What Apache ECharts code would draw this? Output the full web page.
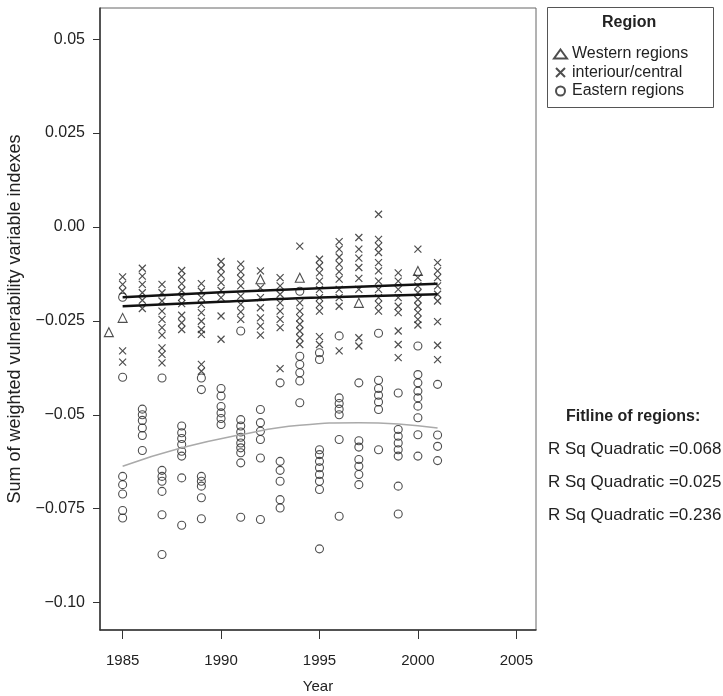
<!DOCTYPE html>
<html>
<head>
<meta charset="UTF-8">
<title>Region vulnerability</title>
<script src="https://cdn.jsdelivr.net/npm/echarts@6/dist/echarts.min.js"></script>
<style>
  html, body { margin: 0; padding: 0; background: #fff; }
  #chart { width: 723px; height: 696px; }
</style>
</head>
<body>
<div id="chart"></div>
<script>
// tick labels
var yearTicks = [1985, 1990, 1995, 2000, 2005];
var valueTicks = [-0.10, -0.075, -0.05, -0.025, 0, 0.025, 0.05];
var valueTickLabels = ['\u22120.10', '\u22120.075', '\u22120.05', '\u22120.025', '0.00', '0.025', '0.05'];

// Western regions (triangles)
var western = [
  [1984.3, -0.028], [1985, -0.0242], [1992, -0.0139], [1994, -0.0135],
  [1997, -0.0202], [2000, -0.0117]
];

// interiour/central (x marks), per year
var interior = {
  1985: [-0.0133, -0.0153, -0.0171, -0.033, -0.036],
  1986: [-0.011, -0.0131, -0.0153, -0.0175, -0.0195, -0.0217],
  1987: [-0.0153, -0.0175, -0.0197, -0.0224, -0.0246, -0.0268, -0.0288, -0.0322, -0.0339, -0.0362],
  1988: [-0.0116, -0.0133, -0.0151, -0.0169, -0.0187, -0.0204, -0.0235, -0.0255, -0.0273],
  1989: [-0.0151, -0.0171, -0.0188, -0.0206, -0.0228, -0.0251, -0.0273, -0.0286, -0.0366, -0.0384],
  1990: [-0.0092, -0.011, -0.0128, -0.0148, -0.0169, -0.0188, -0.0237, -0.0299],
  1991: [-0.0099, -0.0119, -0.0137, -0.0157, -0.0184, -0.0206, -0.0226, -0.0246],
  1992: [-0.0117, -0.0162, -0.0188, -0.0215, -0.0242, -0.0264, -0.0288],
  1993: [-0.0135, -0.0157, -0.0179, -0.0202, -0.0224, -0.0246, -0.0268, -0.0377],
  1994: [-0.0051, -0.0202, -0.0224, -0.0242, -0.0259, -0.0277, -0.0295, -0.0313],
  1995: [-0.0086, -0.0104, -0.0122, -0.0144, -0.0166, -0.0188, -0.0206, -0.0224, -0.0292, -0.0313],
  1996: [-0.0039, -0.0059, -0.008, -0.0099, -0.0119, -0.0139, -0.0166, -0.0188, -0.0211, -0.033],
  1997: [-0.0028, -0.0059, -0.0083, -0.0108, -0.0137, -0.0166, -0.0295, -0.0317],
  1998: [0.0034, -0.0033, -0.0051, -0.0068, -0.0095, -0.0117, -0.0144, -0.0166, -0.0188, -0.0206, -0.0224],
  1999: [-0.0122, -0.0144, -0.0166, -0.0188, -0.0211, -0.0228, -0.0277, -0.0313, -0.0348],
  2000: [-0.0059, -0.0135, -0.0157, -0.0175, -0.0193, -0.0211, -0.0228, -0.0246, -0.0261],
  2001: [-0.0095, -0.0117, -0.0135, -0.0157, -0.0179, -0.0197, -0.0252, -0.0315, -0.0353]
};

// Eastern regions (circles), per year
var eastern = {
  1985: [-0.0187, -0.040, -0.0664, -0.0686, -0.0711, -0.0755, -0.0775],
  1986: [-0.0485, -0.050, -0.0515, -0.0535, -0.0555, -0.0595],
  1987: [-0.0402, -0.0648, -0.0664, -0.0677, -0.0704, -0.0766, -0.0872],
  1988: [-0.053, -0.0548, -0.0563, -0.0579, -0.0597, -0.061, -0.0668, -0.0794],
  1989: [-0.0402, -0.0433, -0.0664, -0.0677, -0.069, -0.0721, -0.0777],
  1990: [-0.043, -0.045, -0.0478, -0.0495, -0.051, -0.0526],
  1991: [-0.0277, -0.0513, -0.053, -0.0546, -0.056, -0.0575, -0.0588, -0.0601, -0.0628, -0.0773],
  1992: [-0.0486, -0.0521, -0.0544, -0.0566, -0.0615, -0.0779],
  1993: [-0.0415, -0.0624, -0.0648, -0.0677, -0.0726, -0.0748],
  1994: [-0.0171, -0.0344, -0.0366, -0.0388, -0.041, -0.0468],
  1995: [-0.0335, -0.0353, -0.0593, -0.0606, -0.0624, -0.0641, -0.0659, -0.0677, -0.0699, -0.0857],
  1996: [-0.029, -0.0455, -0.047, -0.0485, -0.05, -0.0566, -0.077],
  1997: [-0.0415, -0.0569, -0.0586, -0.0619, -0.0637, -0.0659, -0.0686],
  1998: [-0.0283, -0.0408, -0.043, -0.0448, -0.0466, -0.0486, -0.0593],
  1999: [-0.0442, -0.0539, -0.0557, -0.0575, -0.0593, -0.061, -0.069, -0.0764],
  2000: [-0.0317, -0.0393, -0.0415, -0.0437, -0.0455, -0.0477, -0.0508, -0.0553, -0.061],
  2001: [-0.0419, -0.0554, -0.0584, -0.0622]
};

// fit lines
var fitYears = [1985, 1990, 1995, 2001];
var fitUpper = [-0.0187, -0.0174, -0.0163, -0.0151];
var fitLower = [-0.0211, -0.0199, -0.0188, -0.0179];
var eastFitYears = [1985, 1988, 1991, 1994, 1997, 2001];
var eastFitValues = [-0.0637, -0.0588, -0.0553, -0.0528, -0.0521, -0.0535];

var rsq = ['R Sq Quadratic =0.068', 'R Sq Quadratic =0.025', 'R Sq Quadratic =0.236'];

function flatten(byYear) {
  var out = [];
  Object.keys(byYear).forEach(function (y) {
    byYear[y].forEach(function (v) { out.push([+y, v]); });
  });
  return out;
}
function pairs(xs, ys) {
  return xs.map(function (x, i) { return [x, ys[i]]; });
}

var FONT = '"Liberation Sans", Arial, sans-serif';
var ink = '#222';
var myChart = echarts.init(document.getElementById('chart'));

var rsqText = rsq.map(function (t, i) {
  return { type: 'text', left: 548, top: 441 + i * 33,
    style: { text: t, font: '17px ' + FONT, fill: ink } };
});

myChart.setOption({
  animation: false,
  backgroundColor: '#fff',
  grid: { left: 100, top: 8, right: 187, bottom: 66, outerBoundsMode: 'none',
    show: true, borderColor: '#666', borderWidth: 1 },
  xAxis: {
    type: 'value', min: 1983.85, max: 2006,
    name: 'Year', nameLocation: 'middle', nameGap: 49,
    nameTextStyle: { fontFamily: FONT, fontSize: 15, color: ink },
    axisLine: { show: true, onZero: false, lineStyle: { color: '#333', width: 1.5 } },
    axisTick: { show: true, length: 9, customValues: yearTicks, lineStyle: { color: '#333' } },
    axisLabel: { customValues: yearTicks, margin: 23, fontFamily: FONT, fontSize: 15, color: ink,
      formatter: function (v) { return String(v); } },
    splitLine: { show: false }
  },
  yAxis: {
    type: 'value', min: -0.1073, max: 0.0583,
    name: 'Sum of weighted vulnerability variable indexes', nameLocation: 'middle', nameGap: 76,
    nameTextStyle: { fontFamily: FONT, fontSize: 18, color: ink },
    axisLine: { show: true, onZero: false, lineStyle: { color: '#333', width: 1.5 } },
    axisTick: { show: true, length: 7, customValues: valueTicks, lineStyle: { color: '#333' } },
    axisLabel: {
      customValues: valueTicks, margin: 15, fontFamily: FONT, fontSize: 16, color: ink,
      formatter: function (v) {
        var i = valueTicks.findIndex(function (t) { return Math.abs(t - v) < 1e-9; });
        return i >= 0 ? valueTickLabels[i] : '';
      }
    },
    splitLine: { show: false }
  },
  legend: {
    data: ['Western regions', 'interiour/central', 'Eastern regions'],
    orient: 'vertical', left: 548, top: 41, itemGap: 2.5, itemWidth: 13, itemHeight: 9,
    textStyle: { fontFamily: FONT, fontSize: 16, color: ink }
  },
  graphic: [
    { type: 'rect', left: 545, top: 5, shape: { width: 166, height: 100 },
      style: { fill: 'none', stroke: '#555', lineWidth: 1 } },
    { type: 'text', left: 602, top: 15,
      style: { text: 'Region', font: 'bold 16px ' + FONT, fill: ink } },
    { type: 'text', left: 566, top: 409,
      style: { text: 'Fitline of regions:', font: 'bold 16px ' + FONT, fill: ink } }
  ].concat(rsqText),
  series: [
    {
      name: 'Western regions', type: 'scatter', symbol: 'triangle', symbolSize: 9,
      itemStyle: { color: 'transparent', borderColor: ink, borderWidth: 1.1 },
      data: western, z: 3
    },
    {
      name: 'interiour/central', type: 'scatter', symbol: 'path://M0,0L10,10M10,0L0,10', symbolSize: 7,
      itemStyle: { color: 'transparent', borderColor: ink, borderWidth: 1.2 },
      data: flatten(interior), z: 3
    },
    {
      name: 'Eastern regions', type: 'scatter', symbol: 'circle', symbolSize: 8,
      itemStyle: { color: 'transparent', borderColor: ink, borderWidth: 1.1 },
      data: flatten(eastern), z: 3
    },
    {
      name: 'fit1', type: 'line', smooth: true, showSymbol: false, silent: true,
      lineStyle: { color: '#111', width: 2.5 }, data: pairs(fitYears, fitUpper), z: 4
    },
    {
      name: 'fit2', type: 'line', smooth: true, showSymbol: false, silent: true,
      lineStyle: { color: '#111', width: 2.5 }, data: pairs(fitYears, fitLower), z: 4
    },
    {
      name: 'fit3', type: 'line', smooth: true, showSymbol: false, silent: true,
      lineStyle: { color: '#aaa', width: 1.5 }, data: pairs(eastFitYears, eastFitValues), z: 4
    }
  ]
});
</script>
</body>
</html>
